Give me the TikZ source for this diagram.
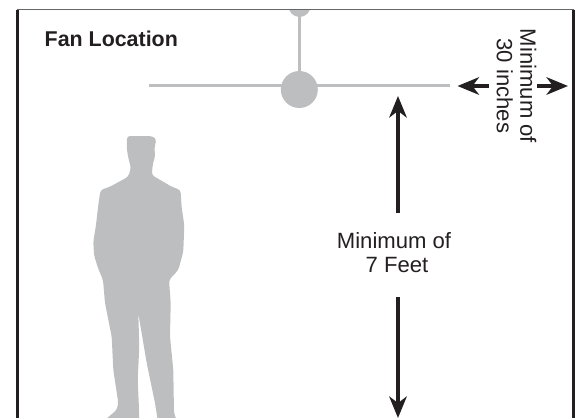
\documentclass[tikz,border=0pt]{standalone}
\usepackage{fontspec}
\setmainfont{Liberation Sans}
\usetikzlibrary{arrows.meta}
\definecolor{figgray}{HTML}{BCBEC0}
\definecolor{inkblack}{HTML}{231F20}
\tikzset{
  wall/.style={draw=inkblack,line width=2.6pt},
  ceiling/.style={draw=black!60,line width=1pt},
  fanstem/.style={draw=figgray,line width=3.8pt},
  fanblade/.style={draw=figgray,line width=3.5pt},
  fanhub/.style={fill=figgray,draw=none},
  dimarrow/.style={draw=inkblack,line width=3.3pt,-{Stealth[length=21.5pt,width=17.5pt,inset=6.5pt]}},
  dimtext/.style={text=inkblack,font=\fontsize{22.1}{24}\selectfont,inner sep=0pt,align=center},
}
\begin{document}
\begin{tikzpicture}[x=1pt,y=-1pt]
\useasboundingbox (0,0) rectangle (582,418);
% fan
\begin{scope}
\clip (0,9.5) rectangle (582,418);
\fill[fanhub] (299.5,6) circle (11);
\end{scope}
\coordinate (bladeL) at (149,85.7);
\coordinate (bladeR) at (450,85.7);
\coordinate (stemT) at (299.5,10);
\coordinate (stemB) at (299.5,75);
\draw[fanstem] (stemT) -- (stemB);
\draw[fanblade] (bladeL) -- (bladeR);
\node[fanhub,circle,minimum size=37pt,inner sep=0pt] (hub) at (299.3,89.5) {};
% walls
\coordinate (tl) at (17.3,9.5);
\coordinate (tr) at (573.5,9.5);
\coordinate (bl) at (17.3,418);
\coordinate (br) at (573.5,418);
\draw[ceiling] (tl) -- (tr);
\draw[wall] (tl) -- (bl);
\draw[wall] (tr) -- (br);
% person
\begin{scope}
\clip (0,0) rectangle (582,418);
\fill[figgray,rounded corners=3pt] (127,136) -- (151.7,136) -- (156.5,139)
 -- (154.3,148.3) -- (155.3,155) -- (152.7,165) -- (151.7,175)
 -- (171.7,186.7) -- (180.5,190) -- (181.7,208) -- (184.3,225) -- (183.3,251.7) -- (178.3,270)
 -- (169,280) -- (170.7,303) -- (170,336.7) -- (173.3,370) -- (174,413) -- (178,424)
 -- (158.3,424) -- (155,403) -- (146.7,363) -- (138.3,313.3) -- (139.3,346.7) -- (137.7,380)
 -- (139,409) -- (139,424) -- (100,424) -- (116.7,410) -- (118.3,403) -- (113.3,370)
 -- (111.7,336.7) -- (105,303) -- (103,280) -- (98,268) -- (94,255)
 -- (93.3,241.7) -- (96,225) -- (98.3,205) -- (100.5,190) -- (110,186.7) -- (128.3,176.7)
 -- (131,168) -- (128.3,158) -- (126.7,148) -- cycle;
\end{scope}
% title
\node[anchor=base west,inner sep=0pt,text=inkblack,font=\fontsize{21.4}{24}\selectfont\bfseries] (title) at (44.5,46) {Fan Location};
% vertical dimension
\node[dimtext] (vlabel) at (394,252.5) {Minimum of\\[-0.5pt]\hspace*{6pt}7 Feet};
\coordinate (vUpTail) at (398,213);
\coordinate (vUpTip) at (398,96);
\coordinate (vDownTail) at (398,297);
\coordinate (vDownTip) at (398,418);
\draw[dimarrow] (vUpTail) -- (vUpTip);
\draw[dimarrow] (vDownTail) -- (vDownTip);
% horizontal dimension
\node[dimtext,rotate=-90] (hlabel) at (516.5,86) {Minimum of\\[-0.5pt]30 inches};
\coordinate (hLTail) at (489,86);
\coordinate (hLTip) at (457.5,86);
\coordinate (hRTail) at (536.5,86);
\coordinate (hRTip) at (568,86);
\draw[dimarrow] (hLTail) -- (hLTip);
\draw[dimarrow] (hRTail) -- (hRTip);
\end{tikzpicture}
\end{document}
